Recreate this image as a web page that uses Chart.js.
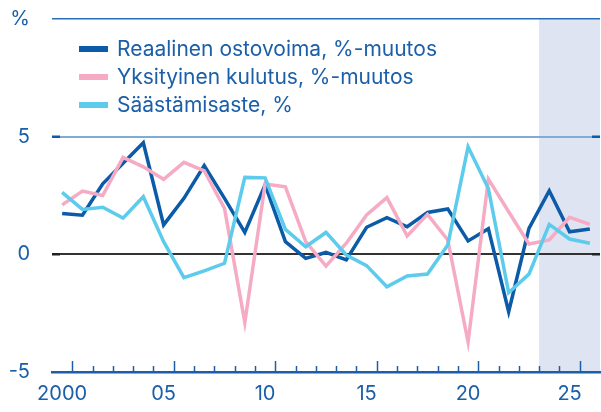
<!DOCTYPE html>
<html>
<head>
<meta charset="utf-8">
<script src="https://cdn.jsdelivr.net/npm/chart.js@4/dist/chart.umd.min.js"></script>
<style>
  html, body { margin: 0; padding: 0; background: #fff; }
  #wrap { width: 601px; height: 412px; }
</style>
</head>
<body>
<div id="wrap"><canvas id="chart"></canvas></div>
<script>
const years = [];
for (let y = 2000; y <= 2026; y++) years.push(String(y));

const ostovoima = [1.74, 1.66, 3.0, 3.87, 4.74, 1.25, 2.38, 3.77, 2.38, 0.93,
  2.95, 0.54, -0.17, 0.08, -0.24, 1.15, 1.56, 1.17, 1.78, 1.93,
  0.57, 1.09, -2.44, 1.1, 2.7, 0.96, 1.08];
const kulutus = [2.1, 2.69, 2.5, 4.12, 3.72, 3.19, 3.91, 3.55, 1.95, -2.9,
  2.99, 2.87, 0.54, -0.5, 0.47, 1.67, 2.41, 0.78, 1.7, 0.61,
  -3.73, 3.2, 1.81, 0.44, 0.61, 1.57, 1.27];
const saastamisaste = [2.63, 1.91, 2.0, 1.54, 2.45, 0.54, -0.99, -0.7, -0.38, 3.27,
  3.25, 1.06, 0.32, 0.93, -0.03, -0.48, -1.38, -0.92, -0.84, 0.4,
  4.57, 2.8, -1.63, -0.84, 1.27, 0.65, 0.47];

const seriesNames = ["Reaalinen ostovoima, %-muutos", "Yksityinen kulutus, %-muutos", "Säästämisaste, %"];
const seriesColors = ["#0b5ba8", "#f6abc5", "#5ccbec"];
const forecastStart = "2024";
const xLabelYears = { 2000: "2000", 2005: "05", 2010: "10", 2015: "15", 2020: "20", 2025: "25" };

const textColor = "#1b5fa8";
const fontFamily = "Inter, 'Open Sans', sans-serif";

const decorPlugin = {
  id: "decor",
  beforeDraw(chart) {
    const { ctx, chartArea, scales } = chart;
    const x = scales.x;
    const half = (x.getPixelForValue(1) - x.getPixelForValue(0)) / 2;
    const start = x.getPixelForValue(years.indexOf(forecastStart)) - half;
    ctx.save();
    ctx.fillStyle = "#dfe4f2";
    ctx.fillRect(start, chartArea.top, chartArea.right - start, chartArea.bottom - chartArea.top);
    ctx.restore();
  },
  afterDraw(chart) {
    const { ctx, chartArea, scales } = chart;
    const x = scales.x, y = scales.y;
    const half = (x.getPixelForValue(1) - x.getPixelForValue(0)) / 2;
    ctx.save();
    // year ticks pointing up from the axis
    ctx.strokeStyle = textColor;
    ctx.lineWidth = 1.5;
    for (let i = 0; i < years.length; i++) {
      const px = Math.round(x.getPixelForValue(i) + half) + 0.5;
      if (px > chartArea.right - 1) continue;
      const major = (Number(years[i]) % 5) === 0;
      ctx.beginPath();
      ctx.moveTo(px, chartArea.bottom);
      ctx.lineTo(px, chartArea.bottom - (major ? 11 : 6));
      ctx.stroke();
    }
    // short marks at both ends of gridlines
    [[5, "#0b5ba8"], [0, "#222"]].forEach(([v, c]) => {
      const py = y.getPixelForValue(v);
      ctx.strokeStyle = c;
      ctx.lineWidth = 2.5;
      ctx.beginPath();
      ctx.moveTo(chartArea.left, py);
      ctx.lineTo(chartArea.left + 8, py);
      ctx.moveTo(chartArea.right - 8, py);
      ctx.lineTo(chartArea.right, py);
      ctx.stroke();
    });
    // legend inside the plot
    ctx.font = "21px " + fontFamily;
    ctx.textBaseline = "middle";
    seriesNames.forEach((name, i) => {
      const ly = 49 + i * 28;
      ctx.strokeStyle = seriesColors[i];
      ctx.lineWidth = 6;
      ctx.beginPath();
      ctx.moveTo(79, ly);
      ctx.lineTo(108, ly);
      ctx.stroke();
      ctx.fillStyle = textColor;
      ctx.fillText(name, 117, ly + 1);
    });
    ctx.restore();
  }
};

const makeSet = (i, data, order) => ({
  label: seriesNames[i],
  data: data,
  borderColor: seriesColors[i],
  backgroundColor: seriesColors[i],
  borderWidth: 3.5,
  pointRadius: 0,
  tension: 0,
  order: order
});

new Chart(document.getElementById("chart"), {
  type: "line",
  data: {
    labels: years,
    datasets: [
      makeSet(0, ostovoima, 3),
      makeSet(1, kulutus, 2),
      makeSet(2, saastamisaste, 1)
    ]
  },
  options: {
    responsive: true,
    maintainAspectRatio: false,
    animation: false,
    layout: { padding: { top: 19, right: 1, left: 0, bottom: 0 } },
    plugins: {
      legend: { display: false },
      tooltip: { enabled: false }
    },
    scales: {
      x: {
        offset: true,
        grid: { display: false, drawTicks: false },
        border: { color: textColor, width: 2.5 },
        ticks: {
          autoSkip: false,
          maxRotation: 0,
          padding: 10,
          color: textColor,
          font: { family: fontFamily, size: 20 },
          callback: (v, i) => xLabelYears[years[i]] || ""
        },
        afterFit: (s) => { s.height = 40; }
      },
      y: {
        min: -5,
        max: 10,
        ticks: {
          stepSize: 5,
          padding: 22,
          color: textColor,
          font: { family: fontFamily, size: 20 },
          callback: (v) => (v === 10 ? "%" : String(v))
        },
        grid: {
          drawTicks: false,
          color: (c) => {
            const v = c.tick.value;
            if (v === 0) return "#333";
            if (v === 5) return "#80abd8";
            if (v === 10) return "#2a6db5";
            return "rgba(0,0,0,0)";
          },
          lineWidth: (c) => (c.tick.value === 0 ? 2 : (c.tick.value === 5 ? 2 : 1.5))
        },
        border: { display: false },
        afterFit: (s) => { s.width = 52; s.paddingTop = 0; s.paddingBottom = 0; }
      }
    }
  },
  plugins: [decorPlugin]
});
</script>
</body>
</html>
